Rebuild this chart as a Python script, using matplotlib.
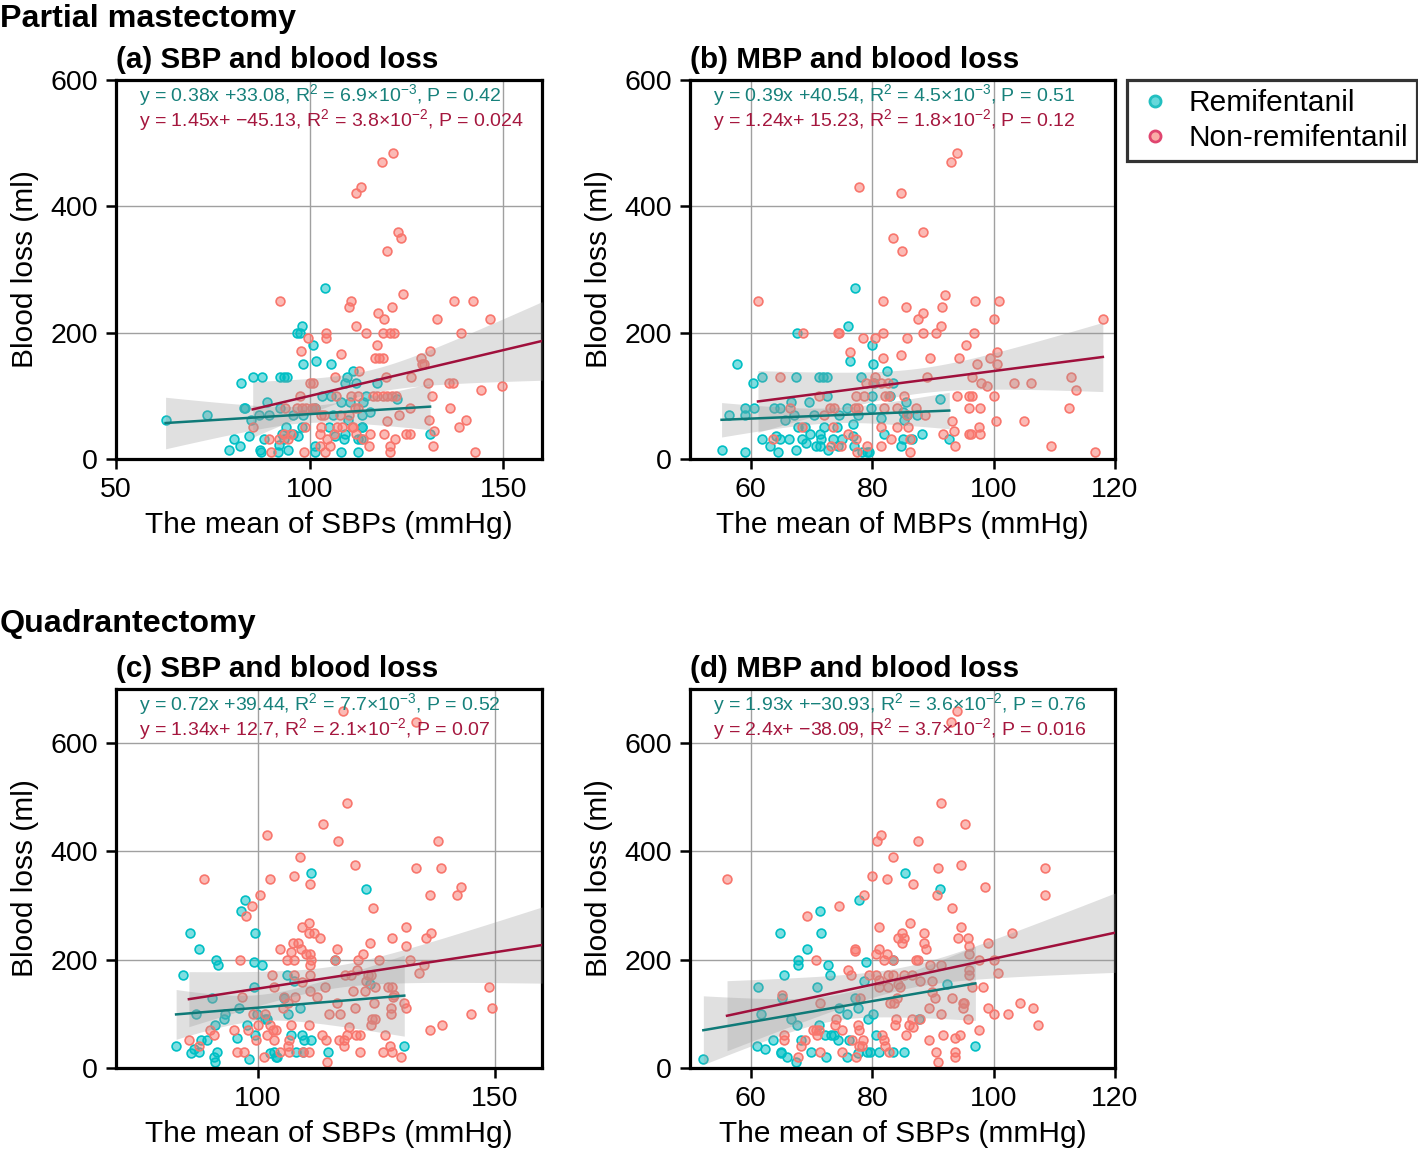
import numpy as np
import matplotlib
matplotlib.use("Agg")
import matplotlib.pyplot as plt
from matplotlib.colors import to_rgba
from matplotlib.lines import Line2D

plt.rcParams['font.family'] = ['Liberation Sans', 'DejaVu Sans']
plt.rcParams['mathtext.fontset'] = 'custom'
plt.rcParams['mathtext.rm'] = 'Liberation Sans'
plt.rcParams['mathtext.it'] = 'Liberation Sans:italic'
plt.rcParams['mathtext.default'] = 'regular'

# ---------------- data ----------------
# Panel (a): SBP vs blood loss, partial mastectomy
a_remi_x = [104, 98.1, 96.8, 97.5, 100.9, 98.4, 101.6, 105.5, 111.2, 82.4, 85.3, 87.6, 92.3, 93.5, 94.2,
            109.6, 109.1, 112, 117.3, 103.1, 105.5, 114.5, 89.1, 122.6, 83, 83.3, 92.3, 101.3, 108.2, 110.3,
            113.9, 73.6, 87, 89.6, 95.6, 98.2, 106, 113.5, 115.7, 62.8, 84.9, 110, 93.9, 97.9, 104.9, 113.5,
            113.6, 84.3, 88.2, 92.9, 95.8, 97, 80.4, 82.1, 79.3, 87.1, 87.5, 92.1, 93.5, 94.4, 91.9, 101.3,
            101.5, 106.5, 108.8, 109.2, 112.4, 113.2, 112.5, 108.1, 131.1]
a_remi_y = [270, 211, 200, 200, 181, 151, 155, 151, 140, 120, 130, 130, 130, 130, 130,
            130, 120, 120, 120, 100, 100, 100, 90, 95, 81, 81, 81, 81, 90, 90,
            90, 70, 70, 70, 70, 70, 70, 70, 75, 61, 61, 61, 51, 51, 51, 51,
            51, 36, 31, 40, 40, 36, 31, 21, 15, 15, 11, 22, 31, 15, 11, 21,
            11, 36, 31, 40, 31, 31, 11, 11, 40]
a_non_x = [121.6, 118.6, 113.2, 112.1, 122.7, 123.7, 120.1, 124.2, 92.3, 110.8, 110.2, 121.2, 137.3, 142.3,
           117.6, 119.3, 112.0, 132.8, 146.7, 104.1, 114.6, 118.9, 120.7, 121.8, 139.2, 99.7, 104.1, 117.3,
           97.7, 108.0, 117, 118, 119, 128.7, 131, 129, 129.5, 112.8, 106.6, 119.6, 126.3, 100, 100.8, 130.5,
           136, 137, 144.3, 149.6, 97.5, 116.3, 117.5, 118.9, 120, 121.3, 122.3, 106.8, 110.6, 112.6, 131.6,
           93.6, 96.8, 98.1, 99, 100.6, 101.5, 111.6, 112.4, 125.9, 136.3, 102.9, 103.7, 107.9, 110.2, 123,
           120, 130.9, 140.5, 85.3, 98.8, 102.9, 107.1, 108.3, 110.9, 111.3, 138.5, 93.5, 95.1, 102.8, 106.4,
           112, 115.6, 119.2, 125, 126, 132.1, 89.6, 92, 94.5, 104.6, 113.8, 122, 102.6, 105.2, 115.3, 120.7,
           131.9, 89.9, 98.5, 104, 120.8, 142.8]
a_non_y = [485, 470, 430, 421, 360, 350, 330, 261, 250, 250, 241, 241, 250, 250,
           231, 221, 211, 221, 221, 200, 200, 200, 200, 200, 200, 191, 191, 181,
           171, 166, 160, 160, 160, 160, 171, 151, 151, 140, 130, 130, 130, 120, 120, 120,
           120, 120, 110, 116, 100, 100, 100, 100, 100, 100, 100, 100, 100, 100, 100,
           81, 81, 81, 81, 81, 81, 81, 81, 81, 81, 70, 70, 70, 70, 70,
           60, 61, 61, 51, 51, 51, 51, 51, 51, 51, 51, 40, 40, 40, 40,
           40, 40, 40, 40, 40, 45, 31, 31, 31, 31, 31, 31, 20, 20, 20, 20,
           20, 11, 11, 11, 11, 11]

# Panel (b): MBP vs blood loss, partial mastectomy
b_remi_x = [77.1, 76.1, 67.7, 80, 57.8, 76.3, 80.2, 82.5, 60.3, 61.8, 67.5, 71.2, 71.9, 72.6, 78.2,
            80.3, 83.5, 72.5, 80, 82.9, 85.6, 91.1, 66.6, 69.6, 59.1, 60.6, 63.8, 64.8, 67.1, 75.9, 79.8,
            85, 87.4, 56.5, 59.1, 65.7, 70.4, 74.6, 77.6, 81.5, 85.7, 67.8, 68.9, 72, 74.2, 76.8, 85.2,
            61.9, 64.1, 64.9, 66.3, 68.5, 69.8, 71.4, 71.6, 73.6, 75, 76.8, 81.9, 85, 86.6, 88.2, 92.7,
            55.2, 59.1, 63.2, 64.5, 67.5, 69.1, 70.8, 71.4, 72.7, 74.3, 77, 78.4, 79.1, 79.4, 84.7]
b_remi_y = [270, 211, 200, 181, 150, 155, 150, 140, 120, 130, 130, 130, 130, 130, 130,
            120, 120, 100, 100, 100, 90, 95, 90, 90, 81, 81, 81, 81, 70, 81, 81,
            75, 70, 70, 70, 61, 70, 70, 70, 65, 70, 51, 51, 51, 51, 56, 61,
            31, 36, 31, 31, 31, 40, 40, 31, 31, 31, 36, 40, 31, 31, 40, 31,
            15, 11, 21, 11, 15, 25, 21, 21, 15, 21, 21, 11, 11, 11, 21]
b_non_x = [94, 93, 77.9, 84.7, 88.3, 83.4, 84.9, 61.2, 81.8, 92, 96.9, 100.9, 85.5, 91.5, 88.3, 87.6,
           91.3, 100, 118, 68.6, 74.3, 74.6, 81.8, 88.3, 90.5, 96.8, 78.5, 80.4, 85.7, 95.4, 76.3, 84.8,
           81.8, 89.5, 94.3, 100.6, 99.4, 97.2, 100.6, 64.8, 80.4, 89.1, 96.4, 79, 80.2, 81.4, 82.6, 98,
           98.9, 103.3, 106.2, 112.8, 113.6, 71.2, 77.3, 78.6, 82.1, 82.8, 85.3, 93.9, 96, 96.5, 100,
           66.4, 73, 73.7, 77.1, 77.6, 81.9, 84.1, 87.2, 96, 97.8, 112.5, 72, 85.8, 88.7, 93.2, 100.4, 105,
           68.4, 73.5, 81.4, 84.1, 85.9, 97.6, 91.7, 93.4, 95.9, 96.3, 97.7, 76, 77.4, 83.1, 86.3, 63.7,
           73.2, 74.8, 79.2, 81.4, 93.6, 109.4, 77.5, 86.2, 116.7]
b_non_y = [485, 470, 430, 421, 360, 350, 330, 250, 250, 260, 250, 250, 241, 241, 231, 221,
           211, 221, 221, 200, 200, 200, 200, 200, 200, 200, 191, 191, 191, 181, 170, 165,
           160, 160, 160, 170, 160, 150, 150, 130, 130, 130, 130, 120, 120, 120, 120, 120,
           116, 120, 120, 130, 110, 100, 100, 100, 100, 100, 100, 100, 100, 100, 100,
           81, 81, 81, 81, 81, 81, 81, 81, 81, 81, 81, 70, 70, 70, 60, 60, 60,
           51, 51, 51, 51, 51, 51, 40, 45, 40, 40, 40, 40, 31, 31, 31, 31,
           21, 21, 21, 21, 21, 21, 11, 11, 11]

# Panel (c): SBP vs blood loss, quadrantectomy
c_remi_x = [111.3, 122.8, 97.2, 96.4, 85.7, 99.4, 87.5, 91.1, 91.6, 99.2, 100.9, 116.2, 84.2, 106.2,
            107.5, 123.6, 99.2, 90.2, 105.5, 95.9, 108.8, 86.9, 93.1, 92.9, 99.7, 101.4, 102, 106.4, 91,
            97.6, 95.6, 99.4, 107, 109.2, 109.8, 111.1, 82.7, 86.5, 85.9, 87.6, 87.9, 89.3, 91.3, 90.6,
            90.9, 98, 102.5, 103.4, 103.8, 104.1, 108, 109.5, 114.8, 130.9]
c_remi_y = [360, 330, 311, 290, 250, 250, 220, 200, 191, 195, 191, 200, 171, 171,
            161, 156, 150, 130, 130, 111, 111, 100, 100, 91, 100, 91, 91, 100, 80,
            80, 56, 61, 61, 61, 51, 51, 41, 36, 27, 30, 51, 51, 30, 21,
            11, 16, 27, 30, 21, 21, 30, 30, 30, 41]
c_non_x = [117.9, 133.3, 118.8, 113.8, 101.8, 116.8, 138.1, 108.8, 120.4, 133.3, 138.7, 88.5, 102.5,
           107.6, 111, 142.8, 142.1, 136.3, 100.4, 98.8, 97.5, 124.2, 109.4, 110.8, 110.8, 111.8, 113.2,
           131.3, 136.6, 135.5, 107.3, 108.4, 107, 109, 110.1, 111, 116.7, 104.6, 122.2, 123.6, 128.3,
           131.3, 96.3, 106.2, 107.5, 111.1, 116.2, 121.1, 125.5, 132.2, 111, 135, 102.9, 107.7, 111,
           118.4, 119.6, 121, 123.8, 134.1, 122.9, 123.2, 103.4, 109.4, 111, 114.2, 120, 122.7, 124.8,
           127.4, 128.4, 148.8, 96.7, 105.4, 112.5, 106.3, 107.8, 116.7, 124.5, 128.5, 130.8, 128.8,
           131.2, 149.5, 99, 101.4, 105.3, 115, 117.4, 120.5, 124.8, 124.1, 128, 128.2, 145.1, 89.9,
           90.8, 94.9, 97.8, 100, 102.6, 103.1, 102, 103.9, 107, 110.8, 119.3, 123.8, 136.3, 138.9,
           85.4, 87.6, 99.6, 103.4, 106.5, 106.4, 113.6, 114.3, 117.2, 118.1, 118.8, 120.6, 121.5,
           126.9, 118.1, 95.6, 97.1, 106.6, 109.5, 110.7, 121.5, 126.5, 127.8, 128.4, 130.3, 104.7,
           101.3, 114.6]
c_non_y = [660, 639, 490, 450, 430, 420, 420, 390, 375, 370, 370, 350, 350,
           355, 340, 335, 320, 320, 320, 300, 280, 295, 260, 267, 250, 250, 240,
           260, 250, 240, 230, 230, 215, 220, 210, 210, 220, 220, 210, 230, 240,
           226, 200, 200, 200, 200, 200, 200, 200, 200, 191, 191, 171, 171, 171,
           171, 171, 181, 171, 176, 161, 171, 150, 159, 142, 150, 142, 142, 150,
           150, 150, 150, 131, 131, 131, 120, 131, 120, 120, 131, 120, 135,
           111, 111, 100, 100, 110, 100, 100, 110, 91, 91, 100, 110, 100, 71,
           61, 71, 71, 80, 80, 71, 61, 71, 80, 80, 75, 80, 71, 80,
           51, 41, 51, 51, 51, 41, 61, 51, 51, 51, 61, 61, 61,
           61, 41, 30, 30, 30, 30, 30, 30, 30, 41, 30, 21, 30,
           21, 11]

# Panel (d): MBP vs blood loss, quadrantectomy
d_remi_x = [85.4, 91.1, 77.9, 71.4, 71.5, 64.9, 69.3, 67.8, 67.8, 72.7, 79, 83.4, 65.4, 73, 78.7,
            92.4, 61.2, 70.9, 65.2, 77.1, 74.5, 77.6, 61.7, 66.6, 67.7, 75.8, 79.3, 80.2, 71.3, 87.7,
            68.3, 72.2, 73.2, 73.7, 74.3, 80.7, 76.2, 61, 62.3, 63.7, 65, 65, 66, 67.5, 70, 72.4, 75.9,
            77.7, 79.2, 79.6, 81.1, 83.5, 85.2, 97, 52.2]
d_remi_y = [360, 330, 310, 290, 250, 250, 220, 200, 191, 191, 195, 200, 171, 171, 161,
            156, 150, 150, 130, 130, 111, 111, 100, 91, 80, 100, 91, 100, 80, 91,
            51, 61, 61, 61, 51, 61, 51, 41, 36, 51, 30, 27, 21, 11, 30, 21, 21,
            27, 30, 30, 30, 30, 30, 41, 16]
d_non_x = [93.9, 93, 91.3, 95.3, 80.8, 81.4, 87.6, 83.5, 90.8, 94.7, 108.5, 56.1, 80, 82.4, 86.8,
           98.6, 90.6, 108.5, 78.7, 74.5, 69.3, 93.2, 81.2, 86.2, 94.7, 84.3, 84.9, 85.2, 84.9, 88.5,
           88.5, 88.8, 94.1, 95.8, 95.9, 99.1, 103.1, 77.1, 77.2, 80.7, 81.2, 82.5, 81.9, 87.3, 87.6,
           83.5, 96, 97.6, 100.1, 70.8, 76, 76.5, 79.5, 80.7, 81.2, 82.6, 83.4, 85.3, 86.6, 89.5, 91.4,
           95.9, 95.9, 100.7, 65.2, 71.4, 78, 81.1, 82.6, 84.2, 84.6, 87.8, 89.9, 89.8, 90.3, 93.2,
           95.1, 96.5, 98.2, 95, 94.9, 83, 83.6, 84.1, 89.4, 91.4, 95.8, 99.1, 100.1, 102.4, 104.3,
           106.5, 107.3, 70.2, 70.8, 71.3, 70.9, 74, 73.8, 75.1, 77.6, 77.9, 83.7, 83.9, 86.6, 86.1,
           86.8, 87.8, 65.5, 65.5, 68.3, 69, 71.4, 75.1, 76.7, 77.9, 78.5, 78.3, 81.7, 82, 82.1, 82.8,
           85.6, 89.4, 91.7, 93.6, 94.4, 97.6, 67.8, 77.4, 90.5, 93.6, 93.7, 90.8]
d_non_y = [660, 639, 490, 450, 420, 430, 420, 390, 370, 375, 370, 350, 355, 350, 340,
           335, 320, 320, 320, 300, 280, 295, 260, 267, 260, 240, 250, 240, 230, 250,
           230, 220, 240, 240, 226, 230, 250, 220, 216, 210, 220, 210, 200, 200, 200,
           200, 210, 200, 200, 200, 181, 171, 171, 171, 162, 171, 171, 171, 171, 191, 191,
           181, 171, 176, 135, 120, 130, 150, 150, 156, 150, 161, 161, 140, 130, 130,
           120, 150, 150, 111, 120, 120, 120, 130, 111, 100, 91, 111, 100, 100, 120,
           111, 80, 71, 71, 71, 61, 91, 80, 71, 80, 71, 80, 91, 91, 80,
           76, 91, 61, 51, 41, 51, 30, 30, 51, 41, 51, 41, 61, 51, 41, 30,
           61, 51, 61, 56, 61, 71, 21, 21, 30, 30, 21, 11]

# Reported regression equations (slope, intercept) and fitted-line x ranges
fits = {
    'a': {'remi': (0.38, 33.08, 62.8, 131.1), 'non': (1.45, -45.13, 85.3, 160)},
    'b': {'remi': (0.39, 40.54, 55.2, 92.7), 'non': (1.24, 15.23, 61.2, 118)},
    'c': {'remi': (0.72, 39.44, 82.7, 130.9), 'non': (1.34, 12.7, 85.4, 160)},
    'd': {'remi': (1.93, -30.93, 52.2, 97), 'non': (2.4, -38.09, 56.1, 120)},
}
eq_text = {
    'a': ("y = 0.38x +33.08, R$^{2}$ = 6.9×10$^{−3}$, P = 0.42",
          "y = 1.45x+ −45.13, R$^{2}$ = 3.8×10$^{−2}$, P = 0.024"),
    'b': ("y = 0.39x +40.54, R$^{2}$ = 4.5×10$^{−3}$, P = 0.51",
          "y = 1.24x+ 15.23, R$^{2}$ = 1.8×10$^{−2}$, P = 0.12"),
    'c': ("y = 0.72x +39.44, R$^{2}$ = 7.7×10$^{−3}$, P = 0.52",
          "y = 1.34x+ 12.7, R$^{2}$ = 2.1×10$^{−2}$, P = 0.07"),
    'd': ("y = 1.93x +−30.93, R$^{2}$ = 3.6×10$^{−2}$, P = 0.76",
          "y = 2.4x+ −38.09, R$^{2}$ = 3.7×10$^{−2}$, P = 0.016"),
}
titles = {'a': "(a) SBP and blood loss", 'b': "(b) MBP and blood loss",
          'c': "(c) SBP and blood loss", 'd': "(d) MBP and blood loss"}
xlabels = {'a': "The mean of SBPs (mmHg)", 'b': "The mean of MBPs (mmHg)",
           'c': "The mean of SBPs (mmHg)", 'd': "The mean of SBPs (mmHg)"}
xlims = {'a': (50, 160), 'b': (50, 120), 'c': (70, 160), 'd': (50, 120)}
ylims = {'a': (0, 600), 'b': (0, 600), 'c': (0, 700), 'd': (0, 700)}
xticks = {'a': [50, 100, 150], 'b': [60, 80, 100, 120], 'c': [100, 150], 'd': [60, 80, 100, 120]}
yticks = {'a': [0, 200, 400, 600], 'b': [0, 200, 400, 600], 'c': [0, 200, 400, 600], 'd': [0, 200, 400, 600]}
groups = ["Remifentanil", "Non-remifentanil"]

data = {
    'a': {'remi': (a_remi_x, a_remi_y), 'non': (a_non_x, a_non_y)},
    'b': {'remi': (b_remi_x, b_remi_y), 'non': (b_non_x, b_non_y)},
    'c': {'remi': (c_remi_x, c_remi_y), 'non': (c_non_x, c_non_y)},
    'd': {'remi': (d_remi_x, d_remi_y), 'non': (d_non_x, d_non_y)},
}

# ---------------- style ----------------
pt_col = {'remi': '#00BFC4', 'non': '#F8766D'}
line_col = {'remi': '#0F7A78', 'non': '#A0103C'}
W, H = 1418, 1154
fig = plt.figure(figsize=(W / 100, H / 100), dpi=100)

def px_axes(l, t, r, b):
    return fig.add_axes([l / W, 1 - b / H, (r - l) / W, (b - t) / H])

boxes = {'a': (116, 80, 542, 459), 'b': (690, 80, 1115, 459),
         'c': (116, 689, 542, 1068), 'd': (690, 689, 1115, 1068)}

def ci_band(x, y, slope, intercept, x0, x1):
    x = np.asarray(x, float); y = np.asarray(y, float)
    n = len(x)
    resid = y - (slope * x + intercept)
    s = np.sqrt(np.sum(resid ** 2) / (n - 2))
    xbar = x.mean(); sxx = np.sum((x - xbar) ** 2)
    xs = np.linspace(x0, x1, 200)
    yh = slope * xs + intercept
    se = s * np.sqrt(1.0 / n + (xs - xbar) ** 2 / sxx)
    return xs, yh, yh - 1.98 * se, yh + 1.98 * se

for key in ['a', 'b', 'c', 'd']:
    ax = px_axes(*boxes[key])
    ax.set_xlim(*xlims[key]); ax.set_ylim(*ylims[key])
    ax.set_xticks(xticks[key]); ax.set_yticks(yticks[key])
    ax.grid(True, color='#A0A0A0', lw=1.0, zorder=0)
    ax.set_axisbelow(True)
    for sp in ax.spines.values():
        sp.set_linewidth(2.3); sp.set_color('black')
    ax.tick_params(direction='out', length=7, width=1.8, labelsize=20.5, pad=6, colors='black')
    for g in ['remi', 'non']:
        xv, yv = data[key][g]
        ax.scatter(xv, yv, s=40, facecolor=to_rgba(pt_col[g], 0.5),
                   edgecolor=to_rgba(pt_col[g], 1.0), linewidths=1.2, zorder=2, clip_on=True)
    for g in ['remi', 'non']:
        xv, yv = data[key][g]
        sl, ic, x0, x1 = fits[key][g]
        xs, yh, lo, hi = ci_band(xv, yv, sl, ic, x0, x1)
        ax.fill_between(xs, lo, hi, color='#999999', alpha=0.3, lw=0, zorder=3)
    for g in ['remi', 'non']:
        sl, ic, x0, x1 = fits[key][g]
        xs = np.array([x0, x1])
        ax.plot(xs, sl * xs + ic, color=line_col[g], lw=1.8, zorder=4)
    l1, l2 = eq_text[key]
    ax.text(0.053, 0.961, l1, transform=ax.transAxes, fontsize=14, color='#17817B',
            va='center', ha='left', zorder=5)
    ax.text(0.053, 0.895, l2, transform=ax.transAxes, fontsize=14, color='#A5173E',
            va='center', ha='left', zorder=5)
    ax.text(0.0, 1.032, titles[key], transform=ax.transAxes, fontsize=21.3, fontweight='bold',
            va='baseline', ha='left')
    ax.set_xlabel(xlabels[key], fontsize=21.5, labelpad=6)
    ax.set_ylabel("Blood loss (ml)", fontsize=21.5, labelpad=8)

fig.text(0.0, 1 - 27 / H, "Partial mastectomy", fontsize=23.2, fontweight='bold', va='baseline', ha='left')
fig.text(0.0, 1 - 632 / H, "Quadrantectomy", fontsize=23.2, fontweight='bold', va='baseline', ha='left')

handles = [Line2D([], [], ls='none', marker='o', markersize=8,
                  markerfacecolor=to_rgba(pt_col[g], 0.6), markeredgecolor=c, markeredgewidth=2)
           for g, c in zip(['remi', 'non'], ['#22BFC0', '#E0456F'])]
leg = fig.legend(handles, groups, loc='upper left', bbox_to_anchor=(1127 / W, 1 - 80 / H),
                 borderaxespad=0, fontsize=21.5, frameon=True, fancybox=False, edgecolor='black',
                 handletextpad=0.45, borderpad=0.3, labelspacing=0.25, handlelength=1.3)
leg.get_frame().set_linewidth(2.3)

fig.savefig("out.png", dpi=100)
